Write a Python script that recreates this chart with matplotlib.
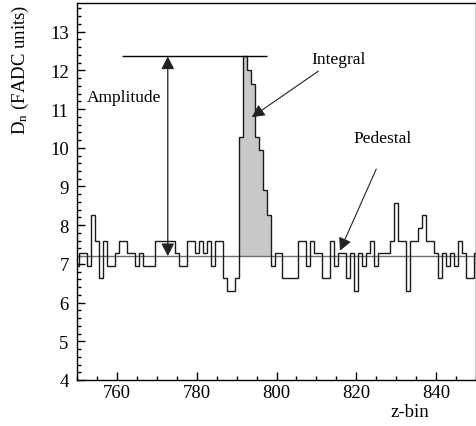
import numpy as np
import matplotlib
matplotlib.use("Agg")
import matplotlib.pyplot as plt
from matplotlib.ticker import MultipleLocator

plt.rcParams["font.family"] = "Liberation Serif"
plt.rcParams["mathtext.fontset"] = "custom"
plt.rcParams["mathtext.rm"] = "Liberation Serif"
plt.rcParams["mathtext.it"] = "Liberation Serif:italic"

# FADC samples, one per z-bin (bin centres 750 .. 850)
zbin = np.arange(750, 851)
adc = np.array([
    6.95, 7.27, 7.27, 6.95, 8.25, 7.60, 6.63, 7.60, 6.95, 6.95,   # 750
    7.27, 7.60, 7.60, 7.27, 7.27, 6.95, 7.27, 6.95, 6.95, 6.95,   # 760
    7.60, 7.60, 7.60, 7.60, 7.60, 7.27, 6.95, 6.95, 7.60, 7.60,   # 770
    7.27, 7.60, 7.27, 7.60, 6.95, 7.60, 7.60, 6.63, 6.31, 6.31,   # 780
    6.63, 10.27, 12.36, 12.00, 11.65, 10.27, 9.94, 8.92, 8.25, 6.95,  # 790
    7.27, 7.27, 6.63, 6.63, 6.63, 6.63, 7.60, 7.60, 6.95, 7.60,   # 800
    7.27, 7.27, 6.63, 6.63, 7.60, 6.95, 7.27, 7.27, 6.63, 7.27,   # 810
    6.31, 7.27, 6.95, 7.27, 7.60, 6.95, 7.27, 7.27, 7.27, 7.60,   # 820
    8.57, 7.60, 7.60, 6.31, 7.60, 7.60, 7.92, 8.25, 7.60, 7.60,   # 830
    7.27, 6.63, 7.27, 6.95, 7.27, 6.95, 7.60, 7.27, 6.63, 6.63,   # 840
    7.27,                                                         # 850
])

pedestal = 7.2
pulse_first, pulse_last = 791, 798   # bins summed into the integral
amp_x = 772.75                       # where the amplitude arrow is drawn

fig = plt.figure(figsize=(4.77, 4.27), dpi=100)
ax = fig.add_axes([77 / 477, 1 - 381 / 427, 399 / 477, 377 / 427])

edges = np.append(zbin - 0.5, zbin[-1] + 0.5)
i0, i1 = pulse_first - zbin[0], pulse_last - zbin[0] + 1
ax.stairs(adc[i0:i1], edges[i0:i1 + 1], baseline=pedestal, fill=True,
          color="#c8c8c8", lw=0, zorder=1)
ax.axhline(pedestal, color="#6e6e6e", lw=1.0, zorder=2)
ax.stairs(adc, edges, baseline=None, color="#1a1a1a", lw=1.0, zorder=3)

# amplitude: peak height above pedestal
amplitude = adc.max()
ax.hlines(amplitude, 761.2, 797.5, color="black", lw=1.0, zorder=3)
ax.annotate("", xy=(amp_x, amplitude), xytext=(amp_x, pedestal),
            arrowprops=dict(arrowstyle="<|-|>,head_length=0.55,head_width=0.28",
                            color="#222222", lw=0.9, mutation_scale=14,
                            shrinkA=0, shrinkB=0), zorder=4)
ax.text(752.5, 11.31, "Amplitude", fontsize=12.5, ha="left", va="center")

ax.text(808.7, 12.29, "Integral", fontsize=12.5, ha="left", va="center")
ax.annotate("", xy=(793.8, 10.79), xytext=(810.5, 11.98),
            arrowprops=dict(arrowstyle="-|>,head_length=0.55,head_width=0.28",
                            color="#222222", lw=0.8, mutation_scale=14,
                            shrinkA=0, shrinkB=0), zorder=4)

ax.text(819.2, 10.25, "Pedestal", fontsize=12.5, ha="left", va="center")
ax.annotate("", xy=(815.9, 7.34), xytext=(825.0, 9.45),
            arrowprops=dict(arrowstyle="-|>,head_length=0.55,head_width=0.28",
                            color="#222222", lw=0.8, mutation_scale=14,
                            shrinkA=0, shrinkB=0), zorder=4)

ax.set_xlim(750, 850)
ax.set_ylim(4, 13.74)
ax.xaxis.set_major_locator(MultipleLocator(20))
ax.xaxis.set_minor_locator(MultipleLocator(5))
ax.yaxis.set_major_locator(MultipleLocator(1))
ax.yaxis.set_minor_locator(MultipleLocator(0.2))
ax.tick_params(which="both", direction="in", top=False, right=False,
               labelsize=13.5, width=1.0)
ax.tick_params(which="major", length=6)
ax.tick_params(which="minor", length=3)
ax.tick_params(axis="x", pad=3)
ax.tick_params(axis="y", pad=6)
for s in ax.spines.values():
    s.set_linewidth(1.0)

fig.text(20 / 477, 1 - 70 / 427, r"D$_{\rm n}$ (FADC units)", rotation=90,
         fontsize=13.5, ha="center", va="center")
fig.text(410 / 477, 1 - 413 / 427, "z-bin", fontsize=13.5,
         ha="center", va="center")

fig.savefig("out.png", dpi=100)
